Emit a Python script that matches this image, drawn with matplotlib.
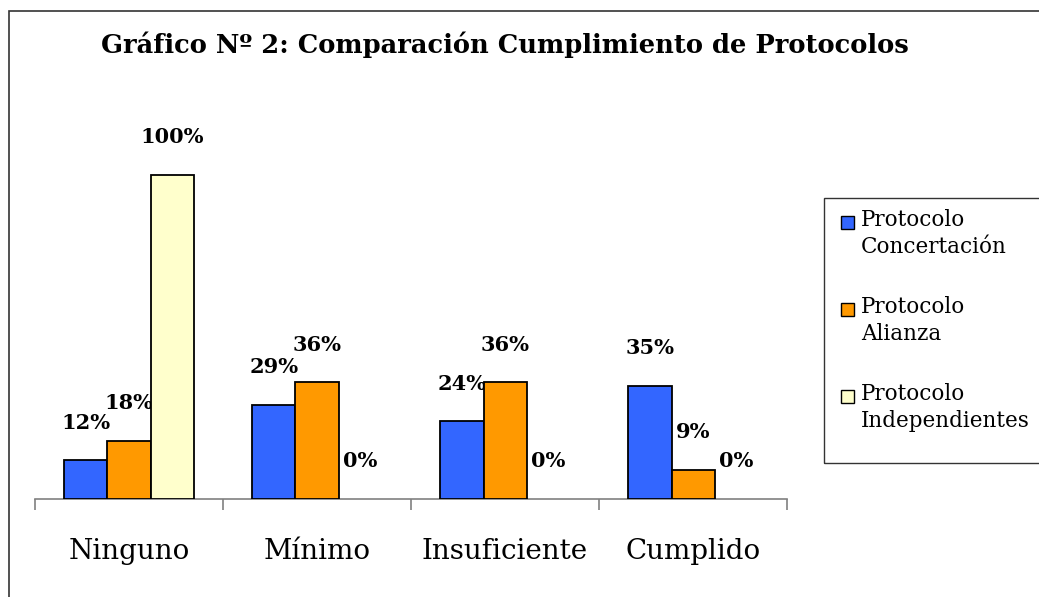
import numpy as np
import matplotlib.pyplot as plt
from matplotlib.patches import Rectangle

# -----------------------------
# Données
# -----------------------------
categorias = ['Ninguno', 'Mínimo', 'Insuficiente', 'Cumplido']
concertacion = [12, 29, 24, 35]
alianza = [18, 36, 36, 9]
independientes = [100, 0, 0, 0]

series = ['Protocolo\nConcertación', 'Protocolo\nAlianza', 'Protocolo\nIndependientes']
colores = ['#3366FF', '#FF9900', '#FFFFCC']

plt.rcParams['font.family'] = ['DejaVu Serif']

fig = plt.figure(figsize=(10.39, 5.97), dpi=100)
ax = fig.add_axes([0.0337, 0.1642, 0.7238, 0.6515])

x = np.arange(len(categorias))
ancho = 0.229
for i, (vals, col) in enumerate(zip([concertacion, alianza, independientes], colores)):
    pos = x + (i - 1) * ancho
    bordes = ['black' if v > 0 else 'none' for v in vals]
    ax.bar(pos, vals, width=ancho, color=col, edgecolor=bordes, linewidth=1.3, zorder=3)
    # Etiquetas de valor
    for xi, v in zip(pos, vals):
        ax.annotate(f'{v}%', (xi, v), xytext=(0, 27), textcoords='offset points',
                    ha='center', va='center', fontsize=15, fontweight='bold')

ax.set_xlim(-0.5, len(categorias) - 0.5)
ax.set_ylim(0, 120)

# Ejes
for s in ['top', 'right', 'left']:
    ax.spines[s].set_visible(False)
ax.spines['bottom'].set_color('#808080')
ax.spines['bottom'].set_linewidth(1.2)
ax.set_yticks([])
ax.set_xticks(np.arange(len(categorias) + 1) - 0.5)
ax.set_xticklabels([])
ax.tick_params(axis='x', which='major', direction='out', length=8, width=1.2, color='#808080')
ax.set_xticks(x, categorias, minor=True)
ax.tick_params(axis='x', which='minor', length=0, pad=28, labelsize=20)

# Título
fig.text(0.486, 0.925, 'Gráfico Nº 2: Comparación Cumplimiento de Protocolos',
         ha='center', va='center', fontsize=18.5, fontweight='bold')

# Marco de la figura
fig.patches.append(Rectangle((9 / 1039, -0.1), 1.2, 1 - 11 / 597 + 0.1,
                             transform=fig.transFigure, fill=False,
                             edgecolor='#333333', linewidth=1.2))

# Leyenda
fig.patches.append(Rectangle((824 / 1039, 1 - 463 / 597), 0.3, (463 - 198) / 597,
                             transform=fig.transFigure, fill=False,
                             edgecolor='#333333', linewidth=1.0))
for k, (lab, col) in enumerate(zip(series, colores)):
    yc = 223 + 87 * k
    fig.patches.append(Rectangle((841 / 1039, 1 - (yc + 6) / 597), 13 / 1039, 13 / 597,
                                 transform=fig.transFigure, facecolor=col,
                                 edgecolor='black', linewidth=1.0))
    fig.text(861 / 1039, 1 - (yc - 14) / 597, lab, ha='left', va='top',
             fontsize=15.5, linespacing=1.3)

fig.savefig('out.png', dpi=100)
